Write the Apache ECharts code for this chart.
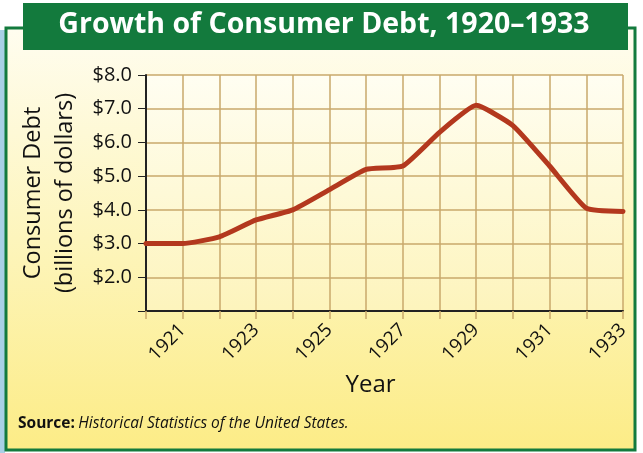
<!DOCTYPE html>
<html>
<head>
<meta charset="utf-8">
<script src="https://cdn.jsdelivr.net/npm/echarts@6/dist/echarts.min.js"></script>
<style>
    html, body { margin: 0; padding: 0; background: #ffffff; }
    #chart { width: 643px; height: 453px; }
</style>
</head>
<body>
<div id="chart"></div>
<script>
// 数据：年份与消费者债务（十亿美元）
const years = [1920, 1921, 1922, 1923, 1924, 1925, 1926, 1927, 1928, 1929, 1930, 1931, 1932, 1933];
const debtValues = [3.0, 3.0, 3.2, 3.7, 4.0, 4.6, 5.2, 5.3, 6.3, 7.1, 6.5, 5.3, 4.05, 3.95];
// 刻度标签（只显示奇数年份 / $2.0 以上）
const yearLabels = [1921, 1923, 1925, 1927, 1929, 1931, 1933];
const debtLabels = [2, 3, 4, 5, 6, 7, 8];

// 颜色
const colorGreen = '#137a3d';
const colorGrid = '#c9a96b';
const colorAxis = '#222222';
const colorLine = '#b3381e';
const fontName = 'Open Sans';

function initChart(container) {
    if (!container) return null;
    let chart = echarts.init(container);

    const option = {
        animation: false,
        graphic: [
            { // 左侧浅蓝色边条
                type: 'rect', z: -10,
                shape: { x: 0, y: 30, width: 5, height: 423 },
                style: { fill: '#a9d0e6' }
            },
            { // 黄色面板 + 绿色边框
                type: 'rect', z: -9,
                shape: { x: 6, y: 28, width: 629, height: 422 },
                style: {
                    fill: new echarts.graphic.LinearGradient(0, 0, 0, 1, [
                        { offset: 0, color: '#fffdf0' },
                        { offset: 0.5, color: '#fdf5bc' },
                        { offset: 1, color: '#fcec86' }
                    ]),
                    stroke: colorGreen,
                    lineWidth: 3
                }
            },
            { // 标题绿色横幅
                type: 'rect', z: -8,
                shape: { x: 23, y: 3, width: 605, height: 47 },
                style: { fill: colorGreen }
            },
            { // 标题文字
                type: 'text', z: 10,
                x: 324, y: 25,
                style: {
                    text: 'Growth of Consumer Debt, 1920\u20131933',
                    fill: '#ffffff',
                    font: 'bold 28.5px "Open Sans"',
                    textAlign: 'center',
                    textVerticalAlign: 'middle'
                }
            },
            { // 资料来源
                type: 'text', z: 10,
                x: 18, y: 424,
                style: {
                    text: '{b|Source:} {i|Historical Statistics of the United States.}',
                    textVerticalAlign: 'middle',
                    rich: {
                        b: { fontFamily: fontName, fontWeight: 'bold', fontSize: 15.5, fill: '#111' },
                        i: { fontFamily: fontName, fontStyle: 'italic', fontSize: 15.5, fill: '#111' }
                    }
                }
            }
        ],
        grid: {
            left: 146,
            right: 20,
            top: 75,
            bottom: 142,
            show: true,
            borderWidth: 0,
            backgroundColor: new echarts.graphic.LinearGradient(0, 0, 0, 1, [
                { offset: 0, color: '#fffef2' },
                { offset: 1, color: '#fdf4bc' }
            ])
        },
        xAxis: {
            type: 'value',
            min: 1920,
            max: 1933,
            interval: 1,
            name: 'Year',
            nameLocation: 'middle',
            nameGap: 62,
            nameTextStyle: { fontFamily: fontName, fontSize: 24, color: '#111', padding: [0, 28, 0, 0] },
            axisLine: { onZero: false, lineStyle: { color: colorAxis, width: 2 } },
            axisTick: { show: true, length: 8, lineStyle: { color: colorGrid, width: 1.5 } },
            splitLine: { show: true, lineStyle: { color: colorGrid, width: 1.5 } },
            axisLabel: {
                rotate: 45,
                margin: 16,
                fontFamily: fontName,
                fontSize: 19,
                color: '#111',
                formatter: v => yearLabels.includes(v) ? String(v) : ''
            }
        },
        yAxis: {
            type: 'value',
            min: 1,
            max: 8,
            interval: 1,
            name: 'Consumer Debt\n(billions of dollars)',
            nameLocation: 'middle',
            nameGap: 64,
            nameTextStyle: { fontFamily: fontName, fontSize: 23.5, lineHeight: 32, color: '#111' },
            axisLine: { show: true, lineStyle: { color: colorAxis, width: 2 } },
            axisTick: { show: true, length: 8, lineStyle: { color: colorAxis, width: 1 } },
            splitLine: { show: true, lineStyle: { color: colorGrid, width: 1.5 } },
            axisLabel: {
                margin: 14,
                fontFamily: fontName,
                fontSize: 20,
                color: '#111',
                formatter: v => debtLabels.includes(v) ? '$' + v.toFixed(1) : ''
            }
        },
        series: [{
            type: 'line',
            data: years.map((y, i) => [y, debtValues[i]]),
            showSymbol: false,
            smooth: 0.15,
            lineStyle: { color: colorLine, width: 5, cap: 'round', join: 'round' },
            z: 5
        }]
    };

    chart.setOption(option);
    return chart;
}

initChart(document.getElementById('chart'));
</script>
</body>
</html>
